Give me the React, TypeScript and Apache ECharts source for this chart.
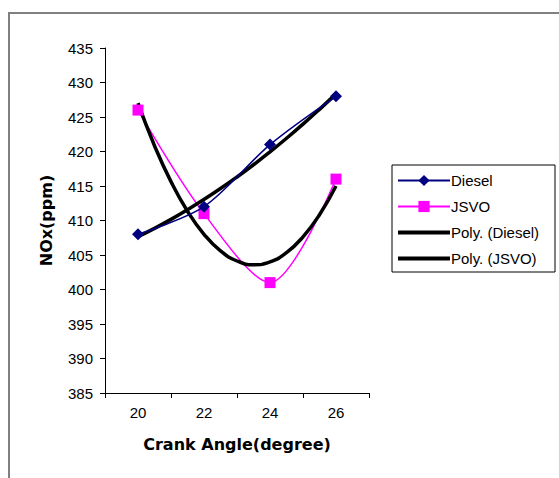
import React, { useEffect, useRef } from "react";
import * as echarts from "echarts";

const crankAngles = [20, 22, 24, 26];
const diesel = [408, 412, 421, 428];
const jsvo = [426, 411, 401, 416];
// trendline samples (2nd-order poly) read at 0.5° steps from 20 to 26
const trendX = [20, 20.5, 21, 21.5, 22, 22.5, 23, 23.5, 24, 24.5, 25, 25.5, 26];
const polyDiesel = [407.65, 408.86, 410.16, 411.56, 413.05, 414.63, 416.31, 418.08, 419.95, 421.91, 423.96, 426.11, 428.35];
const polyJsvo = [427.0, 420.84, 415.63, 411.34, 408.0, 405.59, 404.13, 403.59, 404.0, 405.34, 407.63, 410.84, 415.0];
const yTicks = [385, 435, 5];
const xTickMarks = [19, 21, 23, 25, 27];

const zip = (xs: number[], ys: number[]) => xs.map((x, i) => [x, ys[i]]);

export default function App() {
  const ref = useRef<HTMLDivElement>(null);
  useEffect(() => {
    if (!ref.current) return;
    const chart = echarts.init(ref.current, null, { renderer: "svg" });
    const font = "Liberation Sans, Arial, sans-serif";
    chart.setOption({
      animation: false,
      backgroundColor: "#fff",
      grid: { left: 105, right: 190, top: 48, bottom: 85, containLabel: false },
      xAxis: {
        type: "value",
        min: 19,
        max: 27,
        name: "Crank Angle(degree)",
        nameLocation: "middle",
        nameGap: 43,
        nameTextStyle: { fontFamily: "DejaVu Sans", fontWeight: "bold", fontSize: 16, color: "#000" },
        axisLine: { show: true, lineStyle: { color: "#000", width: 1 } },
        axisTick: { show: true, length: 5, inside: false, customValues: xTickMarks, lineStyle: { color: "#000" } },
        axisLabel: { customValues: crankAngles, fontFamily: font, fontSize: 15, color: "#000", margin: 12 },
        splitLine: { show: false },
      },
      yAxis: {
        type: "value",
        min: yTicks[0],
        max: yTicks[1],
        interval: yTicks[2],
        name: "NOx(ppm)",
        nameLocation: "middle",
        nameGap: 51,
        nameRotate: 90,
        nameTextStyle: { fontFamily: "DejaVu Sans", fontWeight: "bold", fontSize: 16, color: "#000" },
        axisLine: { show: true, lineStyle: { color: "#000", width: 1 } },
        axisTick: { show: true, length: 5, lineStyle: { color: "#000" } },
        axisLabel: { fontFamily: font, fontSize: 15, color: "#000", margin: 12 },
        splitLine: { show: false },
      },
      legend: {
        orient: "vertical",
        left: 396,
        top: 173,
        itemWidth: 52,
        itemHeight: 14,
        itemGap: 11,
        padding: 0,
        textStyle: { fontFamily: font, fontSize: 15, color: "#000", padding: [0, 0, 0, -4] },
        data: [
          { name: "Diesel" },
          { name: "JSVO" },
          { name: "Poly. (Diesel)", itemStyle: { opacity: 0 }, lineStyle: { width: 4 } },
          { name: "Poly. (JSVO)", itemStyle: { opacity: 0 }, lineStyle: { width: 4 } },
        ],
      },
      graphic: [
        { type: "rect", shape: { x: 9, y: 13, width: 600, height: 500 }, style: { fill: "none", stroke: "#808080", lineWidth: 2 }, silent: true },
        { type: "rect", shape: { x: 392, y: 165, width: 163, height: 107 }, style: { fill: "none", stroke: "#000", lineWidth: 1 }, silent: true },
      ],
      series: [
        {
          name: "Diesel",
          type: "line",
          data: zip(crankAngles, diesel),
          smooth: 0.3,
          symbol: "diamond",
          symbolSize: 12,
          itemStyle: { color: "#000080" },
          lineStyle: { color: "#000080", width: 1.5 },
          z: 3,
        },
        {
          name: "JSVO",
          type: "line",
          data: zip(crankAngles, jsvo),
          smooth: 0.3,
          symbol: "rect",
          symbolSize: 11,
          itemStyle: { color: "#FF00FF" },
          lineStyle: { color: "#FF00FF", width: 1.5 },
          z: 2,
        },
        {
          name: "Poly. (Diesel)",
          type: "line",
          data: zip(trendX, polyDiesel),
          smooth: true,
          symbol: "none",
          itemStyle: { color: "#000" },
          lineStyle: { color: "#000", width: 3.5 },
          z: 2,
        },
        {
          name: "Poly. (JSVO)",
          type: "line",
          data: zip(trendX, polyJsvo),
          smooth: true,
          symbol: "none",
          itemStyle: { color: "#000" },
          lineStyle: { color: "#000", width: 3.5 },
          z: 2,
        },
      ],
    });
    return () => chart.dispose();
  }, []);
  return <div ref={ref} style={{ width: 559, height: 478, position: "absolute", left: 0, top: 0 }} />;
}
